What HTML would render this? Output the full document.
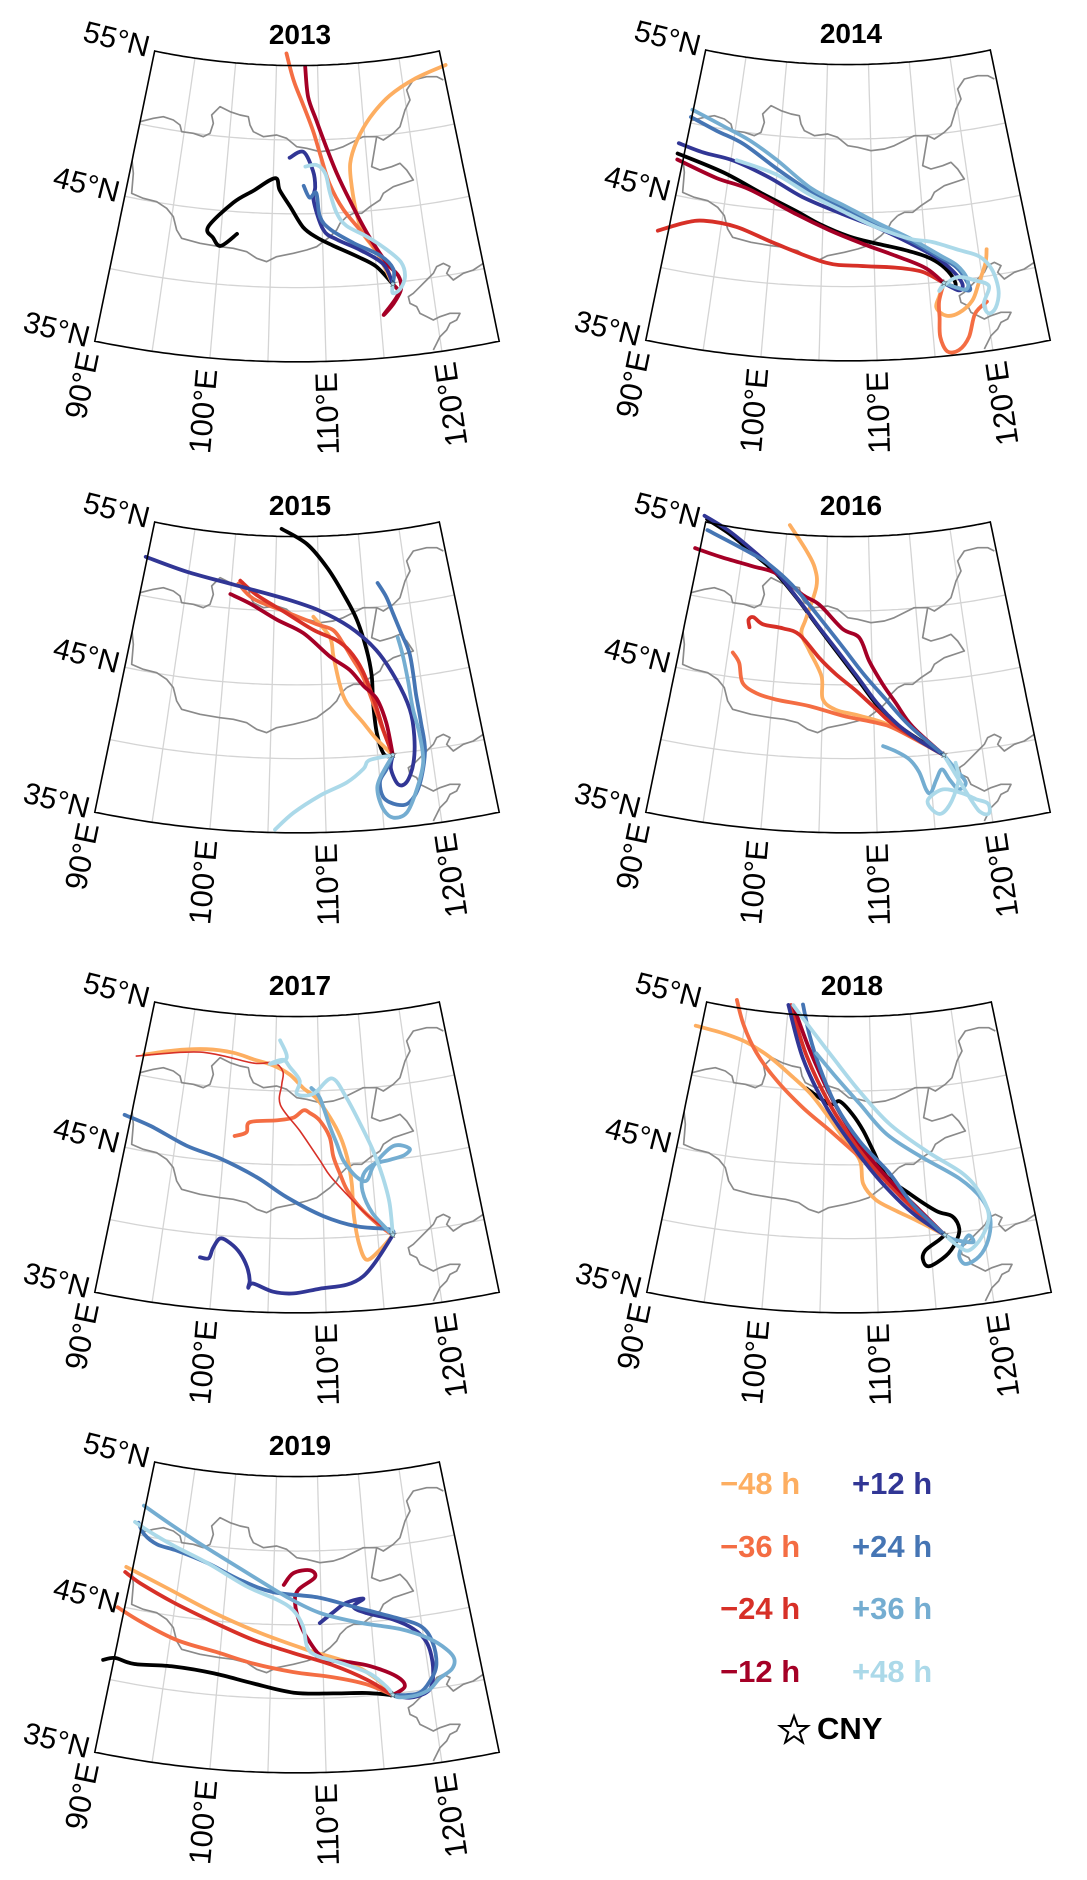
<!DOCTYPE html>
<html><head><meta charset="utf-8"><style>
html,body{margin:0;padding:0;background:#fff;}
svg{display:block;}
text{font-family:"Liberation Sans",Arial,sans-serif;}
</style></head><body>
<svg id="fig" width="1087" height="1880" viewBox="0 0 1087 1880" xmlns="http://www.w3.org/2000/svg">
<rect width="1087" height="1880" fill="#fff"/>
<defs>
<g id="borders">
<g transform="scale(0.33333)" fill="none" stroke="#8a8a8a" stroke-width="5" stroke-linejoin="round">
<polyline points="420,365 460,355 490,350 520,360 540,375 545,395 580,400 610,410 630,400 640,370 635,345 660,320 690,335 720,345 745,350 750,375 760,395 790,410 830,405 860,415 890,440 920,445 960,455 1000,450 1030,440 1060,425 1090,410 1130,410 1150,420 1180,400 1200,380 1215,330 1230,300 1220,270 1240,240 1280,230 1310,230 1330,240"/>
<polyline points="1130,410 1125,440 1120,470 1115,500 1140,510 1175,500 1200,490 1220,510 1240,540 1180,560 1150,580 1140,600 1110,620 1085,640 1060,640 1040,650"/>
<polyline points="395,470 400,520 395,580 430,595 470,605 500,625 520,650 530,690 545,715 600,730 660,740 700,745 740,755 770,775 800,785 830,770 880,760 920,750 950,740 970,725 990,710 1010,690 1020,670 1040,650"/>
<polyline points="1450,790 1420,810 1390,820 1360,840 1340,820 1350,800 1330,790 1310,800 1300,820 1280,840 1260,860 1240,880 1225,890 1230,910 1250,920 1260,940 1280,950 1300,960 1320,950 1350,940 1380,940 1370,960 1350,970 1340,990 1320,1010 1310,1030 1300,1050"/>
</g></g>
</defs>
<g id="panels"></g>
<g id="legend" font-weight="bold" font-size="31">
<text x="720" y="1494" fill="#fdae61">−48 h</text>
<text x="720" y="1557" fill="#f46d43">−36 h</text>
<text x="720" y="1619" fill="#d73027">−24 h</text>
<text x="720" y="1682" fill="#a50026">−12 h</text>
<text x="852" y="1494" fill="#313695">+12 h</text>
<text x="852" y="1557" fill="#4575b4">+24 h</text>
<text x="852" y="1619" fill="#74add1">+36 h</text>
<text x="852" y="1682" fill="#abd9e9">+48 h</text>
<polygon points="794,1716 797.6,1726 808,1726 799.7,1732.3 802.8,1742.5 794,1736.3 785.2,1742.5 788.3,1732.3 780,1726 790.4,1726" fill="none" stroke="#000" stroke-width="2"/>
<text x="817" y="1739" fill="#000">CNY</text>
</g>
</svg>
<script>
// ---- data (lon, lat) ----
const years = ["2013","2014","2015","2016","2017","2018","2019"];
const cny = [116.4, 39.9];
const seriesKeys = ["zero","m48","m36","m24","m12","p12","p24","p36","p48"];
const seriesColors = ["#000000","#fdae61","#f46d43","#d73027","#a50026","#313695","#4575b4","#74add1","#abd9e9"];
const latTicks = [35, 45, 55];
const latTickLabels = ["35°N","45°N","55°N"];
const lonTicks = [90, 100, 110, 120];
const lonTickLabels = ["90°E","100°E","110°E","120°E"];
const gridLons = [95,100,105,110,115,120];
const gridLats = [40,45,50];

const y2013_zero=[[101.6,43.5],[100.1,42.6],[99.3,43.1],[98.7,43.8],[101.0,45.6],[103.0,46.5],[105.2,47.4],[105.7,46.6],[106.8,45.5],[108.1,44.1],[109.4,43.4],[111.0,42.8],[113.2,42.0],[115.0,41.2]];
const y2013_m48=[[125.4,54.0],[121.6,53.5],[118.3,52.6],[115.8,51.3],[114.1,49.8],[113.2,48.3],[113.2,46.7],[113.5,44.9],[114.0,43.5],[115.2,42.1]];
const y2013_m36=[[106.2,55.8],[107.1,54.0],[108.2,52.4],[109.3,50.6],[110.0,49.05],[110.9,47.0],[112.2,45.2],[114.0,43.5],[115.7,41.6]];
const y2013_m24=[];
const y2013_m12=[[108.5,54.9],[108.8,52.9],[109.7,51.3],[110.7,49.5],[111.7,47.7],[112.9,45.8],[114.4,43.5],[116.0,41.4],[117.0,40.4],[117.1,39.5],[116.3,38.6],[115.3,37.9],[116.8,39.2]];
const y2013_p12=[[106.7,48.8],[108.2,49.2],[109.2,47.9],[109.4,46.8],[109.2,45.9],[110.1,43.9],[111.4,43.2],[113.6,42.4],[115.7,41.3]];
const y2013_p24=[[108.2,46.9],[108.8,46.1],[109.5,46.4],[109.8,44.8],[110.8,43.9],[113.0,42.9],[115.5,41.9],[116.6,40.9]];
const y2013_p36=[];
const y2013_p48=[[108.4,48.2],[109.6,48.3],[110.5,47.7],[110.9,46.4],[111.5,45.0],[112.4,44.1],[114.3,43.3],[116.1,42.3],[117.4,41.3],[117.6,40.3],[117.0,39.5],[116.3,39.3]];

const y2014_zero=[[89.3,47.8],[94.4,47.1],[98.7,46.0],[102.3,45.0],[104.7,44.2],[107.6,43.4],[110.2,42.9],[112.8,42.4],[115.0,41.8],[116.4,41.1],[117.3,40.2],[117.4,39.6]];
const y2014_m48=[[120.8,41.8],[120.5,40.9],[119.6,39.6],[118.8,38.5],[117.5,37.8],[116.3,37.7],[115.5,38.3],[115.9,39.1]];
const y2014_m36=[[120.1,38.3],[118.9,37.6],[118.1,36.1],[117.1,35.3],[116.1,35.3],[115.6,36.3],[115.7,37.6],[115.8,38.7]];
const y2014_m24=[[89.0,42.4],[91.3,43.25],[93.2,43.65],[96.5,43.56],[100.5,42.7],[105.4,41.6],[108.6,41.4],[112.0,41.2],[114.5,40.8]];
const y2014_m12=[[89.4,47.4],[93.8,46.65],[97.3,46.2],[102.3,44.8],[105.7,43.8],[108.9,42.9],[112.4,41.9],[114.9,41.0]];
const y2014_p12=[[89.2,48.5],[92.0,48.2],[95.2,48.0],[99.2,47.15],[102.8,46.0],[107.0,44.9],[110.3,44.0],[113.5,42.8],[115.9,41.7],[117.3,40.7],[118.1,39.7],[117.7,39.3]];
const y2014_p24=[[89.9,50.4],[93.0,49.8],[96.1,49.2],[99.9,47.8],[103.6,46.4],[107.0,45.35],[110.3,44.2],[113.5,43.0],[116.2,41.7],[117.7,40.9],[118.5,39.9],[118.6,39.2]];
const y2014_p36=[[89.9,50.9],[93.6,50.2],[96.7,49.5],[99.8,48.4],[103.7,46.6],[107.1,45.5],[110.4,44.3],[113.6,43.1],[116.3,41.8],[117.8,41.0],[118.6,40.0],[118.3,39.3]];
const y2014_p48=[[95.6,48.05],[99.9,47.4],[103.5,46.2],[107.0,45.1],[110.3,44.0],[113.5,43.1],[115.7,42.75],[118.2,42.0],[120.0,41.4],[121.0,40.4],[121.3,38.9],[120.8,37.8],[120.1,37.5],[119.8,38.2],[120.5,39.3],[119.4,39.8],[117.8,40.2],[116.6,39.85],[115.9,39.4]];

const y2015_zero=[[105.6,55.5],[108.7,54.5],[111.0,52.9],[112.7,51.1],[114.0,49.3],[114.8,47.2],[115.1,45.4],[115.0,43.55],[115.1,41.5],[115.6,40.0]];
const y2015_m48=[[109.3,49.6],[111.0,48.2],[111.3,46.9],[111.8,45.0],[112.4,43.7],[113.9,42.25],[115.0,41.1]];
const y2015_m36=[[100.8,51.7],[102.6,50.75],[106.0,50.0],[109.6,49.1],[111.4,48.65],[112.4,47.7],[113.3,46.6],[114.2,45.4],[115.0,43.55],[115.7,41.7]];
const y2015_m24=[[101.0,51.9],[103.0,51.0],[106.2,49.9],[109.3,48.7],[111.6,48.0],[113.0,47.2],[114.2,45.8],[115.2,43.5],[115.8,41.5]];
const y2015_m12=[[100.0,50.95],[102.3,50.4],[105.3,49.4],[108.2,48.5],[110.9,46.9],[112.9,45.9],[114.2,44.75],[115.4,43.8],[116.1,42.1]];
const y2015_p12=[[89.8,52.6],[94.8,52.1],[100.3,51.6],[106.3,50.8],[110.0,50.0],[113.2,48.8],[115.8,47.1],[117.5,45.0],[118.5,42.85],[118.6,41.0],[118.2,39.2],[117.4,38.0],[116.6,37.9],[116.1,39.0]];
const y2015_p24=[[116.7,51.6],[117.5,50.6],[118.0,49.5],[118.6,48.1],[119.2,46.7],[119.3,45.1],[119.3,43.8],[119.4,41.9],[119.4,39.9],[118.5,37.7],[117.4,36.6],[116.3,36.55],[115.2,37.1],[115.0,38.2],[115.7,39.0]];
const y2015_p36=[[118.2,47.8],[118.5,46.5],[118.7,44.7],[118.8,42.85],[119.1,41.2],[119.1,39.2],[118.2,37.4],[117.1,35.95],[115.9,35.7],[115.1,36.3],[114.7,37.5],[115.0,38.4]];
const y2015_p48=[[105.6,35.2],[107.2,36.35],[109.6,37.5],[112.0,38.3],[113.6,39.15],[114.2,39.7]];

const y2016_zero=[[90.1,55.2],[93.2,54.5],[96.7,53.3],[99.2,52.3],[101.7,50.8],[104.0,49.1],[106.2,47.35],[108.3,45.55],[110.2,43.75],[112.1,42.3],[114.2,41.1]];
const y2016_m48=[[100.3,55.6],[102.5,54.0],[103.6,52.9],[103.9,51.6],[102.9,49.4],[102.5,48.4],[103.4,47.3],[104.8,45.55],[105.0,44.0],[106.3,43.3],[108.6,42.9],[111.8,42.1]];
const y2016_m36=[[95.5,46.65],[96.3,46.0],[96.9,44.7],[98.4,44.1],[100.4,43.8],[103.7,43.5],[107.0,42.9],[110.2,42.4],[112.1,41.9]];
const y2016_m24=[[96.9,48.5],[96.7,49.0],[97.2,49.2],[98.3,48.8],[100.5,48.65],[102.3,48.3],[104.5,46.8],[106.3,45.7],[108.3,44.6],[110.3,43.3],[112.1,42.1]];
const y2016_m12=[[89.4,53.15],[92.5,52.9],[96.4,52.6],[99.2,52.3],[102.4,51.0],[104.3,50.4],[106.9,48.8],[108.7,48.2],[109.7,46.6],[111.0,45.0],[112.2,43.7],[113.7,42.0]];
const y2016_p12=[[89.7,55.4],[93.0,54.7],[96.6,53.5],[99.2,52.4],[101.9,50.7],[104.2,49.0],[106.4,47.3],[108.5,45.5],[110.4,43.7],[112.3,42.2],[114.3,41.0]];
const y2016_p24=[[90.4,54.5],[96.7,53.3],[99.2,52.5],[101.7,51.3],[104.0,49.8],[106.9,47.6],[109.0,45.8],[111.2,44.0],[113.4,42.1]];
const y2016_p36=[[110.8,40.8],[112.0,40.4],[113.2,39.8],[114.0,38.9],[114.5,37.7],[114.9,37.45],[115.5,38.3],[116.1,38.95],[116.7,38.2],[117.4,37.5],[118.1,37.9],[117.3,38.9]];
const y2016_p48=[[117.4,39.3],[117.5,38.2],[116.7,36.8],[115.7,36.0],[114.9,36.3],[114.6,37.0],[116.0,37.6],[117.7,37.2],[118.8,36.7],[119.8,36.3],[119.8,35.65],[119.2,35.7],[118.5,36.5]];

const y2017_zero=[];
const y2017_m48=[[90.0,51.4],[93.3,52.05],[97.0,52.45],[100.1,52.4],[102.5,52.05],[104.8,51.7],[106.7,51.1],[108.2,50.2],[109.6,49.5],[111.0,48.2],[112.0,46.85],[112.6,45.4],[112.9,43.6],[112.9,41.6],[113.2,39.6],[113.8,38.4],[115.1,39.0]];
const y2017_m36=[[101.0,46.8],[102.2,47.1],[102.5,47.8],[105.3,48.0],[107.1,48.2],[108.2,48.7],[108.9,48.5],[109.9,48.0],[110.9,46.85],[111.2,45.5],[111.8,44.3],[112.4,43.2],[113.5,42.0],[115.0,40.8]];
const y2017_m24=[[89.2,51.2],[96.3,52.2],[102.5,51.8],[104.8,51.9],[105.9,51.3],[105.8,50.4],[105.7,49.05],[107.8,47.3],[109.8,45.3],[110.8,44.2],[112.6,42.7],[114.4,41.25]];
const y2017_m12=[];
const y2017_p12=[[98.7,38.4],[99.5,38.4],[99.8,39.1],[100.4,39.8],[101.4,39.5],[102.3,38.9],[103.0,38.0],[103.3,37.1],[103.2,36.6],[103.6,36.9],[105.4,36.4],[107.2,36.3],[109.5,36.6],[111.9,36.8],[113.4,37.3],[114.7,38.3]];
const y2017_p24=[[89.3,47.15],[92.2,46.75],[96.2,45.8],[99.7,45.2],[103.5,44.1],[106.5,42.8],[110.0,41.5],[113.1,40.7],[116.2,40.3]];
const y2017_p36=[[109.1,50.2],[110.0,49.5],[111.0,47.5],[111.6,46.4],[112.2,45.2],[113.4,44.05],[114.4,43.75],[115.3,44.8],[117.4,45.9],[119.0,45.6],[118.4,45.2],[116.9,45.0],[115.2,44.8],[114.1,44.15],[113.9,43.05],[114.7,41.5]];
const y2017_p48=[[105.5,53.4],[106.3,52.2],[104.4,51.8],[105.9,52.1],[106.7,51.6],[107.8,50.7],[107.5,49.8],[109.3,49.8],[111.4,50.8],[112.9,49.45],[114.2,47.6],[115.3,45.7],[116.0,43.9],[116.4,42.1]];

const y2018_zero=[[102.8,50.1],[105.4,49.1],[106.5,49.3],[107.9,48.4],[109.0,47.3],[110.0,45.9],[111.2,44.2],[113.4,42.9],[115.8,41.6],[117.3,41.1],[117.8,40.2],[117.3,39.3],[116.3,38.5],[114.7,37.9],[114.2,38.4],[114.5,39.0],[115.8,39.6]];
const y2018_m48=[[89.3,53.3],[92.7,53.15],[95.5,52.8],[98.4,52.0],[101.2,50.8],[103.2,49.8],[105.1,48.4],[106.9,46.85],[108.6,45.3],[108.9,43.7],[110.1,42.6],[112.0,41.8],[113.9,41.05]];
const y2018_m36=[[93.6,55.5],[94.9,53.9],[96.8,52.2],[99.4,50.5],[102.5,48.8],[105.5,47.3],[108.3,45.7],[110.8,44.1],[113.3,42.2]];
const y2018_m24=[[100.3,55.6],[102.6,52.3],[105.5,49.0],[108.5,46.1],[111.2,43.8],[114.0,41.6]];
const y2018_m12=[[100.6,55.6],[103.0,52.6],[105.8,49.3],[108.6,46.4],[111.5,43.9],[114.3,41.7]];
const y2018_p12=[[100.0,55.6],[102.2,52.1],[105.1,48.85],[108.3,45.9],[110.8,43.7],[113.6,41.55]];
const y2018_p24=[[101.8,55.7],[102.8,53.7],[104.2,51.5],[106.1,49.0],[108.6,46.6],[111.5,44.4],[113.6,42.2]];
const y2018_p36=[[103.7,52.5],[106.1,50.9],[108.7,49.1],[111.4,47.05],[114.7,45.4],[118.4,43.6],[120.3,42.0],[120.8,40.6],[120.3,39.2],[119.3,38.2],[118.0,37.8],[117.5,38.4],[118.0,39.2],[118.6,39.7],[118.9,39.2],[117.3,39.5]];
const y2018_p48=[[100.6,55.6],[102.8,54.2],[105.7,52.2],[108.7,49.95],[111.8,47.7],[115.4,45.7],[118.8,43.9],[120.2,42.4],[120.7,40.8],[119.8,39.5],[118.5,38.7],[117.6,39.0]];

const y2019_zero=[[89.0,41.2],[90.1,41.5],[92.0,41.35],[95.7,41.6],[99.6,41.45],[103.4,40.95],[107.2,40.4],[110.9,40.3],[114.0,40.2]];
const y2019_m48=[[89.3,47.7],[93.9,46.8],[99.0,45.55],[103.8,44.4],[108.5,43.3],[112.6,42.3],[115.0,41.1]];
const y2019_m36=[[89.3,44.9],[91.9,44.24],[95.7,43.4],[99.7,42.9],[103.3,42.3],[107.1,41.8],[110.9,41.4],[114.0,40.8]];
const y2019_m24=[[89.3,47.35],[91.1,46.8],[94.8,45.9],[99.1,44.9],[103.2,43.9],[107.1,43.1],[111.0,42.2],[114.1,41.1]];
const y2019_m12=[[106.1,47.7],[107.1,48.5],[108.9,48.7],[109.4,48.2],[107.6,47.35],[107.3,46.45],[107.8,45.1],[108.6,44.0],[110.1,42.7],[112.3,42.4],[114.5,42.0],[116.9,41.15],[117.6,40.4]];
const y2019_p12=[[109.8,45.1],[111.2,45.8],[112.6,46.4],[114.4,46.6],[113.3,46.1],[114.6,45.6],[117.2,45.0],[119.1,44.2],[120.2,43.2],[120.5,41.8],[120.2,40.4],[119.5,39.8],[117.9,39.6]];
const y2019_p24=[[89.6,50.8],[90.5,50.1],[92.1,49.6],[94.4,49.4],[97.8,48.85],[101.5,47.9],[105.0,47.2],[109.6,46.85],[113.3,46.1],[116.9,45.25],[119.8,44.35],[120.8,43.1],[120.8,41.5],[119.9,40.45],[118.9,39.85],[117.7,39.8]];
const y2019_p36=[[89.8,52.0],[92.8,51.2],[96.0,50.3],[99.1,49.4],[102.8,48.2],[106.4,46.9],[109.8,45.8],[113.8,45.0],[117.8,44.3],[120.5,43.4],[122.0,42.5],[122.6,41.75],[122.2,41.1],[120.9,40.6],[119.9,40.0],[118.6,39.7],[117.0,39.7]];
const y2019_p48=[[89.2,50.8],[90.8,50.4],[93.9,49.7],[97.8,48.85],[102.2,47.5],[105.4,46.7],[107.1,46.0],[108.1,44.9],[108.5,43.5],[109.4,42.9],[111.9,42.3],[114.4,41.5],[115.9,40.5]];

const yearSeries = [
 [y2013_zero,y2013_m48,y2013_m36,y2013_m24,y2013_m12,y2013_p12,y2013_p24,y2013_p36,y2013_p48],
 [y2014_zero,y2014_m48,y2014_m36,y2014_m24,y2014_m12,y2014_p12,y2014_p24,y2014_p36,y2014_p48],
 [y2015_zero,y2015_m48,y2015_m36,y2015_m24,y2015_m12,y2015_p12,y2015_p24,y2015_p36,y2015_p48],
 [y2016_zero,y2016_m48,y2016_m36,y2016_m24,y2016_m12,y2016_p12,y2016_p24,y2016_p36,y2016_p48],
 [y2017_zero,y2017_m48,y2017_m36,y2017_m24,y2017_m12,y2017_p12,y2017_p24,y2017_p36,y2017_p48],
 [y2018_zero,y2018_m48,y2018_m36,y2018_m24,y2018_m12,y2018_p12,y2018_p24,y2018_p36,y2018_p48],
 [y2019_zero,y2019_m48,y2019_m36,y2019_m24,y2019_m12,y2019_p12,y2019_p24,y2019_p36,y2019_p48]
];

// ---- layout ----
const panelOrigins = [[0,0],[551,-1],[0,471],[551,471],[0,951],[552,951],[0,1411]];
const CX=297, AY=-639, K=1580.6, M=0.70, NC=0.666, LON0=107.5;
const LONMIN=90, LONMAX=125, LATMIN=35, LATMAX=55;
function proj(lon,lat){
  const t=Math.tan((45-lat/2)*Math.PI/180);
  const r=K*Math.pow(t,M);
  const th=NC*(lon-LON0)*Math.PI/180;
  return [CX+r*Math.sin(th), AY+r*Math.cos(th)];
}
function pathOf(pts){return pts.map((p,i)=>{const q=proj(p[0],p[1]);return (i?'L':'M')+q[0].toFixed(1)+','+q[1].toFixed(1);}).join('');}
function smoothPath(pts){
  const q=pts.map(p=>proj(p[0],p[1]));
  if(q.length<3)return pathOf(pts);
  let d='M'+q[0][0].toFixed(1)+','+q[0][1].toFixed(1);
  for(let i=0;i<q.length-1;i++){
    const p0=q[Math.max(0,i-1)],p1=q[i],p2=q[i+1],p3=q[Math.min(q.length-1,i+2)];
    const c1=[p1[0]+(p2[0]-p0[0])/6,p1[1]+(p2[1]-p0[1])/6];
    const c2=[p2[0]-(p3[0]-p1[0])/6,p2[1]-(p3[1]-p1[1])/6];
    d+='C'+c1[0].toFixed(1)+','+c1[1].toFixed(1)+' '+c2[0].toFixed(1)+','+c2[1].toFixed(1)+' '+p2[0].toFixed(1)+','+p2[1].toFixed(1);
  }
  return d;
}
const NS='http://www.w3.org/2000/svg';
function mk(tag,attrs,parent){const e=document.createElementNS(NS,tag);for(const k in attrs)e.setAttribute(k,attrs[k]);parent.appendChild(e);return e;}

const root=document.getElementById('panels');
function framePts(){
  const pts=[];
  for(let l=LONMIN;l<=LONMAX;l+=0.5)pts.push([l,LATMAX]);
  for(let a=LATMAX;a>=LATMIN;a-=0.5)pts.push([LONMAX,a]);
  for(let l=LONMAX;l>=LONMIN;l-=0.5)pts.push([l,LATMIN]);
  for(let a=LATMIN;a<=LATMAX;a+=0.5)pts.push([LONMIN,a]);
  return pts;
}
years.forEach((yr,pi)=>{
  const o=panelOrigins[pi];
  const g=mk('g',{transform:`translate(${o[0]},${o[1]})`},root);
  
  
  const cp=mk('clipPath',{id:'clip'+pi},g);
  mk('path',{d:pathOf(framePts())+'Z'},cp);
  const gg=mk('g',{fill:'none',stroke:'#d4d4d4','stroke-width':'1.3','clip-path':`url(#clip${pi})`},g);
  
  
  gridLons.forEach(l=>{const pts=[];for(let a=LATMIN;a<=LATMAX;a+=1)pts.push([l,a]);const e=mk('path',{d:pathOf(pts)},gg);
    
    });
  gridLats.forEach(a=>{const pts=[];for(let l=LONMIN;l<=LONMAX;l+=0.5)pts.push([l,a]);const e=mk('path',{d:pathOf(pts)},gg);
    
    });
  const bu=mk('use',{href:'#borders','clip-path':`url(#clip${pi})`},g);
  
  
  const tg=mk('g',{fill:'none','stroke-width':'3.8','stroke-linejoin':'round','stroke-linecap':'round'},g);
  
  
  [0,1,2,3,4,5,6,7,8].forEach(si=>{
    const d=yearSeries[pi][si];
    if(!d.length)return;
    const e=mk('path',{d:smoothPath(d.concat([cny])),stroke:seriesColors[si]},tg);
    if(yr==="2017"&&seriesKeys[si]==="m24")e.setAttribute('stroke-width','1.6');
    
    
  });
  const s=proj(cny[0],cny[1]);
  const st=mk('text',{x:s[0],y:s[1]+3,'font-size':'10','text-anchor':'middle',fill:'#000'},g);
  st.textContent='☆';
  
  
  const fr=mk('path',{d:pathOf(framePts())+'Z',fill:'none',stroke:'#000','stroke-width':'1.6'},g);
  
  
  const tt=mk('text',{x:300,y:44,'font-size':'28','font-weight':'bold','text-anchor':'middle',fill:'#000'},g);
  tt.textContent=yr;
  
  
  latTicks.forEach((a,i)=>{
    const p=proj(LONMIN,a);
    const t=mk('text',{transform:`translate(${(p[0]-8).toFixed(1)},${(p[1]+6).toFixed(1)}) rotate(14)`,'font-size':'30','text-anchor':'end',fill:'#000'},g);
    t.textContent=latTickLabels[i];
    
    
  });
  lonTicks.forEach((l,i)=>{
    const p=proj(l,LATMIN);
    const rot=-90-NC*(l-LON0);
    const t=mk('text',{transform:`translate(${(p[0]+(l-110)*0.3).toFixed(1)},${(p[1]+11).toFixed(1)}) rotate(${rot.toFixed(1)})`,'font-size':'31','text-anchor':'end','dominant-baseline':'central',fill:'#000'},g);
    t.textContent=lonTickLabels[i];
    
    
  });
});
</script>
</body></html>
